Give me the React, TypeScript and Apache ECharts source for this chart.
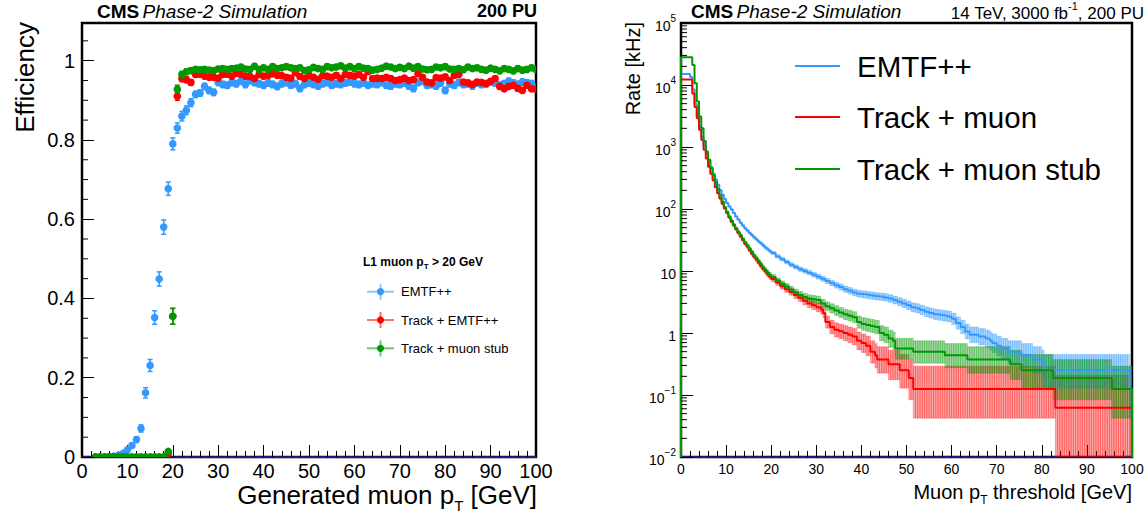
import React, { useEffect, useRef } from "react";
import * as echarts from "echarts";

const FONT = "'Liberation Sans', Arial, Helvetica, sans-serif";
const C_BLUE = "#3399ff";
const C_RED = "#ff0000";
const C_GREEN = "#009900";
const NAVY = "#1a1a7a";

// ---------------- Left panel: efficiency vs generated muon pT ----------------
// 1 GeV bins, first bin centre at pT = 3 GeV, last at 100 GeV
const PT_FIRST = 3;
const effEmtf: number[] = [
  0, 0, 0, 0.001, 0.002, 0.004, 0.009, 0.018, 0.029, 0.044, 0.072,
  0.162, 0.231, 0.352, 0.449, 0.58, 0.677, 0.79, 0.83, 0.86, 0.875, 0.894,
  0.915, 0.918, 0.935, 0.925, 0.92, 0.945, 0.94, 0.938, 0.945, 0.942,
  0.948, 0.94, 0.95, 0.945, 0.942, 0.938, 0.944, 0.94, 0.935, 0.942,
  0.945, 0.938, 0.942, 0.93, 0.94, 0.944, 0.94, 0.936, 0.942, 0.945,
  0.938, 0.942, 0.94, 0.944, 0.946, 0.942, 0.94, 0.944, 0.938, 0.942,
  0.94, 0.945, 0.938, 0.936, 0.942, 0.94, 0.944, 0.936, 0.93, 0.945,
  0.948, 0.938, 0.94, 0.936, 0.944, 0.925, 0.942, 0.938, 0.945, 0.94,
  0.942, 0.936, 0.944, 0.94, 0.942, 0.946, 0.944, 0.938, 0.942, 0.948,
  0.944, 0.94, 0.946, 0.944, 0.942, 0.93,
];
const effTrackEmtf: number[] = [
  0, 0, 0, 0, 0, 0, 0, 0, 0, 0, 0, 0, 0, 0, 0, 0, 0.008, 0.355, 0.91, 0.955, 0.952, 0.945,
  0.965, 0.966, 0.961, 0.958, 0.958, 0.956, 0.965, 0.966, 0.961, 0.968,
  0.966, 0.961, 0.96, 0.955, 0.965, 0.961, 0.963, 0.967, 0.963, 0.962,
  0.958, 0.956, 0.97, 0.96, 0.955, 0.963, 0.958, 0.953, 0.962, 0.961,
  0.958, 0.963, 0.955, 0.965, 0.963, 0.961, 0.965, 0.958, 0.972, 0.955,
  0.956, 0.955, 0.958, 0.955, 0.95, 0.952, 0.956, 0.95, 0.952, 0.967,
  0.958, 0.946, 0.944, 0.957, 0.956, 0.959, 0.95, 0.963, 0.965, 0.946,
  0.944, 0.94, 0.946, 0.945, 0.942, 0.948, 0.955, 0.935, 0.929, 0.935,
  0.938, 0.93, 0.925, 0.938, 0.929, 0.928,
];
const effTrackStub: number[] = [
  0, 0, 0, 0, 0, 0, 0, 0, 0, 0, 0, 0, 0, 0, 0, 0, 0.014, 0.355, 0.928, 0.965, 0.972, 0.975,
  0.978, 0.977, 0.978, 0.976, 0.975, 0.979, 0.98, 0.978, 0.98, 0.981,
  0.984, 0.979, 0.978, 0.986, 0.978, 0.982, 0.978, 0.985, 0.98, 0.982,
  0.985, 0.982, 0.98, 0.982, 0.975, 0.977, 0.983, 0.98, 0.978, 0.985,
  0.982, 0.984, 0.987, 0.981, 0.985, 0.98, 0.985, 0.981, 0.98, 0.976,
  0.978, 0.981, 0.986, 0.984, 0.98, 0.983, 0.98, 0.986, 0.981, 0.985,
  0.979, 0.977, 0.978, 0.984, 0.982, 0.985, 0.979, 0.978, 0.98, 0.977,
  0.984, 0.98, 0.982, 0.978, 0.976, 0.981, 0.978, 0.974, 0.98, 0.978,
  0.974, 0.98, 0.976, 0.978, 0.982, 0.978,
];
// statistical error bars: first bins (pT 3..24) then a plateau value
const errEmtfRise: number[] = [
  0.001, 0.001, 0.001, 0.002, 0.002, 0.003, 0.004, 0.005, 0.006, 0.007, 0.009,
  0.013, 0.015, 0.017, 0.018, 0.018, 0.017, 0.015, 0.013, 0.012, 0.011, 0.01,
];
const errTrackRise: number[] = [
  0.001, 0.001, 0.001, 0.001, 0.001, 0.001, 0.001, 0.001, 0.001, 0.001, 0.001,
  0.001, 0.001, 0.001, 0.001, 0.001, 0.004, 0.02, 0.01, 0.008, 0.007, 0.007,
];
const ERR_EMTF_PLATEAU = 0.008;
const ERR_TRACK_PLATEAU = 0.006;

// ---------------- Right panel: rate vs threshold (step histograms) ----------------
// [threshold start (GeV), rate (kHz)]; each value holds until the next threshold
const rateEmtf: [number, number][] = [
  [0, 15000], [2, 13500], [2.5, 8500], [3, 5000], [3.5, 3100], [4, 2100], [4.5, 1450],
  [5, 1050], [5.5, 780], [6, 600], [6.5, 470], [7, 370], [7.5, 300], [8, 245], [8.5, 200],
  [9, 170], [9.5, 145], [10, 125], [10.5, 110], [11, 98], [11.5, 86], [12, 76], [12.5, 68],
  [13, 60], [13.5, 54], [14, 49], [14.5, 45], [15, 41], [15.5, 38], [16, 35], [16.5, 32.5],
  [17, 30], [17.5, 28], [18, 26], [18.5, 24], [19, 22.5], [19.5, 21], [20, 19.5],
  [21, 17.2], [22, 15.5], [23, 14], [24, 12.6], [25, 11.6], [26, 10.7], [27, 10], [28, 9.4],
  [29, 8.7], [30, 8.1], [31, 7.5], [32, 6.9], [33, 6.4], [34, 5.9], [35, 5.5], [36, 5.1],
  [37, 4.8], [38, 4.5], [39, 4.3], [40, 4.2], [41, 4.1], [42, 4.0], [43, 3.9], [44, 3.85],
  [45, 3.75], [46, 3.6], [47, 3.4], [48, 3.2], [49, 3.0], [50, 2.8], [51, 2.6], [52, 2.5],
  [53, 2.35], [54, 2.2], [55, 2.1], [56, 2.0], [57, 1.95], [58, 1.9], [59, 1.85], [60, 1.7],
  [61, 1.45], [62, 1.25], [63, 1.06], [64, 0.9375], [66, 0.875], [67.5, 0.8125], [68.5, 0.75],
  [69, 0.6875], [70, 0.625], [71, 0.5625], [72.5, 0.5], [75.5, 0.4375], [78, 0.375],
  [80, 0.3125], [80.5, 0.25], [99.5, 0.125],
];
const rateTrackMuon: [number, number][] = [
  [0, 12300], [2.5, 7300], [3, 4400], [3.5, 2900], [4, 1900], [4.5, 1300], [5, 900],
  [5.5, 650], [6, 480], [6.5, 370], [7, 290], [7.5, 225], [8, 180], [8.5, 148], [9, 122],
  [9.5, 102], [10, 86], [10.5, 73], [11, 62], [11.5, 54], [12, 47], [12.5, 41], [13, 36],
  [13.5, 31.5], [14, 27.5], [14.5, 24.5], [15, 21.5], [15.5, 19], [16, 17], [16.5, 15.2],
  [17, 13.5], [17.5, 12], [18, 10.8], [18.5, 9.8], [19, 8.8], [19.5, 8.1], [20, 7.4],
  [21, 6.5], [22, 5.7], [23, 5.1], [24, 4.6], [25, 4.1], [26, 3.7], [27, 3.3], [28, 3.0],
  [29, 2.8], [30, 2.6], [31, 2.4], [31.5, 2.1], [32, 1.5], [33, 1.25], [34, 1.125],
  [35, 1.0625], [36, 1.0], [37, 0.9375], [38, 0.875], [39, 0.75], [40, 0.6875], [41, 0.625],
  [42, 0.5], [43, 0.4375], [43.5, 0.375], [46, 0.3125], [48.5, 0.25], [50.5, 0.1875],
  [51.5, 0.125], [83, 0.0625],
];
const rateTrackStub: [number, number][] = [
  [0, 28000], [2.5, 21000], [3, 10700], [3.5, 5400], [4, 3100], [4.5, 2000], [5, 1250],
  [5.5, 850], [6, 620], [6.5, 460], [7, 350], [7.5, 270], [8, 210], [8.5, 165], [9, 132],
  [9.5, 107], [10, 90], [10.5, 76], [11, 65], [11.5, 56], [12, 49], [12.5, 43], [13, 38],
  [13.5, 33], [14, 29], [14.5, 26], [15, 23], [15.5, 20.5], [16, 18], [16.5, 16.2],
  [17, 14.5], [17.5, 13], [18, 11.5], [18.5, 10.5], [19, 9.5], [19.5, 8.7], [20, 8.0],
  [21, 7.0], [22, 6.2], [23, 5.6], [24, 5.0], [25, 4.5], [26, 4.1], [27, 3.8], [28, 3.6],
  [29, 3.5], [30, 3.4], [31, 3.0], [32, 2.7], [33, 2.5], [34, 2.3], [35, 2.15], [36, 2.0],
  [37, 1.9], [38, 1.8], [39, 1.5], [40, 1.4], [41, 1.35], [42, 1.3], [43, 1.25], [44, 1.0],
  [45, 0.9375], [46, 0.8125], [47, 0.75], [47.5, 0.5625], [51.5, 0.5], [58.5, 0.4375],
  [63.5, 0.375], [73, 0.3125], [75.5, 0.25], [82.5, 0.1875], [95.5, 0.125],
];
const RATE_PER_EVENT = 0.0625; // kHz per selected event
const X_MAX = 100;
const BIN = 0.5;
const Y_MIN_LOG = 0.01;
const Y_MAX_LOG = 100000;

// ---------------- helpers ----------------
function effPoints(vals: number[], rise: number[], plateau: number) {
  return vals.map((v, i) => [PT_FIRST + i, v, i < rise.length ? rise[i] : plateau]);
}
function stepLine(steps: [number, number][]) {
  const pts: number[][] = [[steps[0][0], Y_MIN_LOG]];
  steps.forEach((s) => pts.push([s[0], s[1]]));
  pts.push([X_MAX, steps[steps.length - 1][1]]);
  pts.push([X_MAX, Y_MIN_LOG]);
  return pts;
}
// Poisson (Gehrels) 68% interval of the event count behind each rate
function band(steps: [number, number][]) {
  const out: number[][] = [];
  steps.forEach((s, i) => {
    const x1 = i + 1 < steps.length ? steps[i + 1][0] : X_MAX;
    const n = s[1] / RATE_PER_EVENT;
    const lo = Math.max(n - Math.sqrt(Math.max(n - 0.25, 0)), 0) * RATE_PER_EVENT;
    const hi = (n + 1 + Math.sqrt(n + 0.75)) * RATE_PER_EVENT;
    for (let x = s[0]; x < x1 - 1e-9; x += BIN) out.push([x, Math.min(x + BIN, x1), lo, hi]);
  });
  return out;
}

let measureCtx: CanvasRenderingContext2D | null = null;
function textWidth(text: string, size: number, weight: string) {
  if (!measureCtx) measureCtx = document.createElement("canvas").getContext("2d");
  if (!measureCtx) return text.length * size * 0.55;
  measureCtx.font = `${weight} ${size}px ${FONT}`;
  return measureCtx.measureText(text).width;
}
// text with a subscript: base1 + sub + base2, positioned by its left or right edge
function subText(
  anchorX: number, yCenter: number, align: "left" | "right",
  base1: string, sub: string, base2: string,
  size: number, subSize: number, drop: number, weight: string,
) {
  const w1 = textWidth(base1, size, weight);
  const ws = textWidth(sub, subSize, weight);
  const w2 = textWidth(base2, size, weight);
  const x0 = align === "left" ? anchorX : anchorX - (w1 + ws + w2);
  const common = { fontFamily: FONT, fontWeight: weight, fill: "#000", align: "left", verticalAlign: "middle" };
  return [
    { type: "text", x: x0, y: yCenter, style: { ...common, text: base1, fontSize: size } },
    { type: "text", x: x0 + w1, y: yCenter + drop, style: { ...common, text: sub, fontSize: subSize } },
    { type: "text", x: x0 + w1 + ws, y: yCenter, style: { ...common, text: base2, fontSize: size } },
  ];
}

function errSeries(name: string, data: number[][], color: string, z: number) {
  return {
    type: "custom",
    name,
    xAxisIndex: 0,
    yAxisIndex: 0,
    data,
    z,
    clip: true,
    encode: { x: 0, y: 1 },
    renderItem: (_p: any, api: any) => {
      const x = api.value(0), v = api.value(1), e = api.value(2);
      const c = api.coord([x, v]);
      const t = api.coord([x, v + e]);
      const b = api.coord([x, Math.max(v - e, 0)]);
      const children: any[] = [];
      if (c[1] - t[1] > 1) {
        children.push({ type: "line", shape: { x1: c[0], y1: t[1], x2: c[0], y2: b[1] }, style: { stroke: color, lineWidth: 1.5 } });
        children.push({ type: "line", shape: { x1: c[0] - 2.5, y1: t[1], x2: c[0] + 2.5, y2: t[1] }, style: { stroke: color, lineWidth: 1.5 } });
        children.push({ type: "line", shape: { x1: c[0] - 2.5, y1: b[1], x2: c[0] + 2.5, y2: b[1] }, style: { stroke: color, lineWidth: 1.5 } });
      }
      children.push({ type: "circle", shape: { cx: c[0], cy: c[1], r: 3.8 }, style: { fill: color } });
      return { type: "group", children };
    },
  };
}

function bandSeries(steps: [number, number][], fill: string, stroke: string, z: number) {
  return {
    type: "custom",
    xAxisIndex: 1,
    yAxisIndex: 1,
    data: band(steps),
    z,
    clip: true,
    silent: true,
    encode: { x: [0, 1], y: [2, 3] },
    renderItem: (_p: any, api: any) => {
      const p0 = api.coord([api.value(0), Math.min(api.value(3), Y_MAX_LOG)]);
      const p1 = api.coord([api.value(1), Math.max(api.value(2), Y_MIN_LOG)]);
      return {
        type: "rect",
        shape: { x: p0[0], y: p0[1], width: p1[0] - p0[0], height: p1[1] - p0[1] },
        style: { fill, stroke, lineWidth: 0.6 },
      };
    },
  };
}

function lineSeries(name: string, steps: [number, number][], color: string, z: number) {
  return {
    type: "line",
    name,
    xAxisIndex: 1,
    yAxisIndex: 1,
    data: stepLine(steps),
    step: "end",
    showSymbol: false,
    symbol: "none",
    silent: true,
    z,
    lineStyle: { color, width: 2 },
  };
}

function minorTickSeries(grid: number, values: number[], len: number) {
  return {
    type: "custom",
    xAxisIndex: grid,
    yAxisIndex: grid,
    data: values.map((v) => [0, v]),
    z: 10,
    silent: true,
    encode: { x: 0, y: 1 },
    renderItem: (_p: any, api: any) => {
      const c = api.coord([0, api.value(1)]);
      return { type: "line", shape: { x1: c[0], y1: c[1], x2: c[0] + len, y2: c[1] }, style: { stroke: "#000", lineWidth: 1 } };
    },
  };
}

const leftMinor: number[] = [];
for (let k = 1; k <= 21; k++) if (k % 4 !== 0) leftMinor.push(k * 0.05);
const logMinor: number[] = [];
for (let e = -2; e <= 4; e++) for (let m = 2; m <= 9; m++) logMinor.push(m * Math.pow(10, e));

function buildOption() {
  const axisCommon = {
    axisTick: { inside: true, length: 12, lineStyle: { color: "#000", width: 1 } },
    splitLine: { show: false },
  };
  const legendLeftY = [291.7, 320, 348.3];
  const legendLeftNames = ["EMTF++", "Track + EMTF++", "Track + muon stub"];
  const legendColors = [C_BLUE, C_RED, C_GREEN];
  const legendRightY = [66, 117, 169];
  const legendRightNames = ["EMTF++", "Track + muon", "Track + muon stub"];

  const headerRich = {
    b: { fontFamily: FONT, fontSize: 19, fontWeight: "bold", fill: "#000" },
    i: { fontFamily: FONT, fontSize: 19, fontStyle: "italic", fill: "#000" },
  };

  const graphic: any[] = [
    { type: "text", x: 97, y: 11, style: { text: "{b|CMS} {i|Phase-2 Simulation}", verticalAlign: "middle", align: "left", rich: headerRich } },
    { type: "text", x: 537, y: 11, style: { text: "200 PU", fontFamily: FONT, fontSize: 18, fontWeight: "bold", fill: "#000", align: "right", verticalAlign: "middle" } },
    { type: "text", x: 691, y: 11, style: { text: "{b|CMS} {i|Phase-2 Simulation}", verticalAlign: "middle", align: "left", rich: headerRich } },
    {
      type: "text", x: 1144, y: 11,
      style: {
        text: "{n|14 TeV, 3000 fb}{u|-1}{n|, 200 PU}",
        verticalAlign: "middle", align: "right",
        rich: {
          n: { fontFamily: FONT, fontSize: 17, fill: "#000", lineHeight: 22, verticalAlign: "bottom" },
          u: { fontFamily: FONT, fontSize: 11, fill: "#000", lineHeight: 10, verticalAlign: "top" },
        },
      },
    },
    { type: "text", x: 25, y: 22, rotation: Math.PI / 2, style: { text: "Efficiency", fontFamily: FONT, fontSize: 26, fill: "#000", align: "right", verticalAlign: "middle" } },
    { type: "text", x: 633, y: 22, rotation: Math.PI / 2, style: { text: "Rate [kHz]", fontFamily: FONT, fontSize: 20, fill: "#000", align: "right", verticalAlign: "middle" } },
    ...subText(537, 495, "right", "Generated muon p", "T", " [GeV]", 26, 15, 10, "normal"),
    ...subText(1132, 492, "right", "Muon p", "T", " threshold [GeV]", 20, 12, 8, "normal"),
    ...subText(363, 262, "left", "L1 muon p", "T", " > 20 GeV", 12, 8, 4, "bold"),
  ];
  legendLeftY.forEach((y, i) => {
    const c = legendColors[i];
    graphic.push({ type: "line", shape: { x1: 367, y1: y, x2: 394, y2: y }, style: { stroke: c, lineWidth: 2, opacity: 0.55 } });
    graphic.push({ type: "line", shape: { x1: 380.5, y1: y - 8, x2: 380.5, y2: y + 8 }, style: { stroke: c, lineWidth: 2, opacity: 0.55 } });
    graphic.push({ type: "circle", shape: { cx: 380.5, cy: y, r: 3.6 }, style: { fill: c } });
    graphic.push({ type: "text", x: 401, y, style: { text: legendLeftNames[i], fontFamily: FONT, fontSize: 13, fill: "#000", align: "left", verticalAlign: "middle" } });
  });
  legendRightY.forEach((y, i) => {
    const c = legendColors[i];
    graphic.push({ type: "line", shape: { x1: 795, y1: y, x2: 840, y2: y }, style: { stroke: c, lineWidth: 2 } });
    graphic.push({ type: "text", x: 857, y, style: { text: legendRightNames[i], fontFamily: FONT, fontSize: 29.5, fill: "#000", align: "left", verticalAlign: "middle" } });
  });

  return {
    animation: false,
    backgroundColor: "#fff",
    textStyle: { fontFamily: FONT },
    grid: [
      { left: 82, top: 23, width: 454, height: 434, show: true, borderColor: "#000", borderWidth: 2.5, backgroundColor: "transparent" },
      { left: 681, top: 23, width: 451, height: 434, show: true, borderColor: "#000", borderWidth: 2.5, backgroundColor: "transparent" },
    ],
    xAxis: [
      {
        type: "value", gridIndex: 0, min: 0, max: 100, interval: 10,
        axisLine: { show: true, onZero: false, lineStyle: { color: NAVY, width: 2 } },
        ...axisCommon,
        minorTick: { show: true, splitNumber: 5, length: 6, lineStyle: { color: "#000", width: 1 } },
        axisLabel: { fontFamily: FONT, fontSize: 20, color: "#000", margin: 4 },
      },
      {
        type: "value", gridIndex: 1, min: 0, max: 100, interval: 10,
        axisLine: { show: true, onZero: false, lineStyle: { color: NAVY, width: 2 } },
        ...axisCommon,
        minorTick: { show: true, splitNumber: 5, length: 6, lineStyle: { color: "#000", width: 1 } },
        axisLabel: { fontFamily: FONT, fontSize: 14, color: "#000", margin: 5 },
      },
    ],
    yAxis: [
      {
        type: "value", gridIndex: 0, min: 0, max: 1.095, interval: 0.2,
        axisLine: { show: true, onZero: false, lineStyle: { color: "#000", width: 2 } },
        ...axisCommon,
        axisLabel: {
          fontFamily: FONT, fontSize: 20, color: "#000", margin: 7, showMaxLabel: false,
          formatter: (v: number) => {
            const k = Math.round(v / 0.2);
            if (Math.abs(v - k * 0.2) > 1e-6) return "";
            if (k === 0) return "0";
            if (k === 5) return "1";
            return (k * 0.2).toFixed(1);
          },
        },
      },
      {
        type: "log", gridIndex: 1, logBase: 10, min: Y_MIN_LOG, max: Y_MAX_LOG, splitNumber: 7,
        axisLine: { show: true, onZero: false, lineStyle: { color: "#000", width: 2 } },
        ...axisCommon,
        axisLabel: {
          margin: 5,
          formatter: (v: number) => {
            const e = Math.round(Math.log10(v));
            if (e === 0) return "{b|1}";
            if (e === 1) return "{b|10}";
            return "{b|10}{s|" + (e < 0 ? "\u2212" + -e : String(e)) + "}";
          },
          rich: {
            b: { fontFamily: FONT, fontSize: 14, color: "#000", lineHeight: 20, verticalAlign: "bottom" },
            s: { fontFamily: FONT, fontSize: 10, color: "#000", lineHeight: 10, verticalAlign: "top" },
          },
        },
      },
    ],
    series: [
      errSeries("EMTF++", effPoints(effEmtf, errEmtfRise, ERR_EMTF_PLATEAU), C_BLUE, 3),
      errSeries("Track + EMTF++", effPoints(effTrackEmtf, errTrackRise, ERR_TRACK_PLATEAU), C_RED, 4),
      errSeries("Track + muon stub", effPoints(effTrackStub, errTrackRise, ERR_TRACK_PLATEAU), C_GREEN, 5),
      minorTickSeries(0, leftMinor, 6),
      bandSeries(rateTrackMuon, "rgba(255,0,0,0.35)", "rgba(255,0,0,0.45)", 2),
      bandSeries(rateEmtf, "rgba(51,153,255,0.38)", "rgba(51,153,255,0.5)", 2),
      bandSeries(rateTrackStub, "rgba(0,153,0,0.35)", "rgba(0,153,0,0.45)", 2),
      lineSeries("EMTF++", rateEmtf, C_BLUE, 5),
      lineSeries("Track + muon", rateTrackMuon, C_RED, 6),
      lineSeries("Track + muon stub", rateTrackStub, C_GREEN, 7),
      minorTickSeries(1, logMinor, 6),
    ],
    graphic,
  };
}

export default function App() {
  const ref = useRef<HTMLDivElement>(null);
  useEffect(() => {
    document.body.style.margin = "0";
    const chart = echarts.init(ref.current as HTMLDivElement, undefined, { renderer: "svg" });
    chart.setOption(buildOption() as any);
    return () => chart.dispose();
  }, []);
  return <div ref={ref} style={{ width: 1147, height: 517 }} />;
}
